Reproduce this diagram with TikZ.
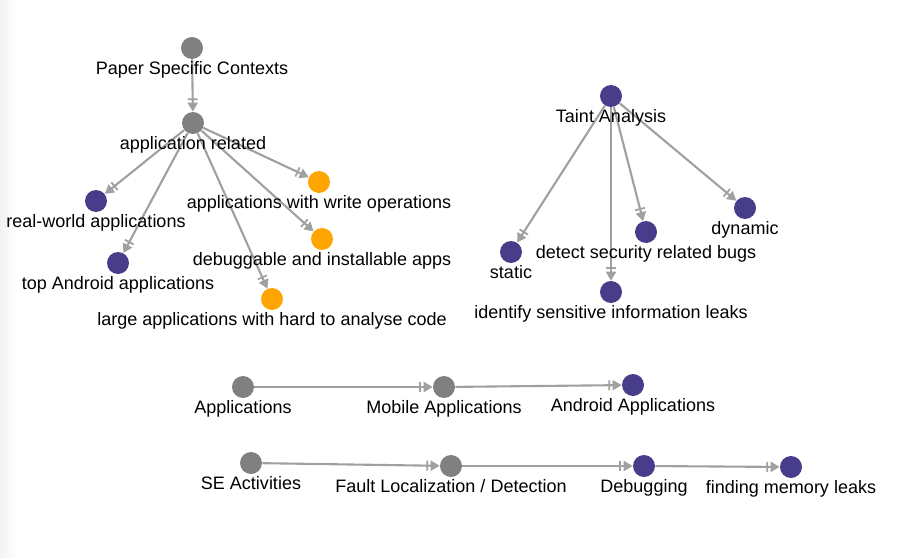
\documentclass[tikz,border=0pt]{standalone}
\usepackage{fontspec}
\setmainfont{Liberation Sans}
\usetikzlibrary{arrows.meta,backgrounds}
\definecolor{topicgrey}{RGB}{128,128,128}
\definecolor{topicpurple}{RGB}{72,61,139}
\definecolor{topicorange}{RGB}{255,165,0}
\definecolor{linkgrey}{RGB}{160,160,160}
\tikzset{
  topic/.style={circle, fill=#1, inner sep=0pt, minimum size=0.44cm},
  caption/.style={inner sep=0pt, text height=0.258cm, text depth=0.07cm, label distance=0.04cm},
  link/.style={draw=linkgrey, line width=1.2pt,
    -{Bar[width=0.2cm,line width=1pt,sep=0.05cm]Triangle[length=0.18cm,width=0.2cm]}},
  every label/.style={caption}
}

\begin{document}
\begin{tikzpicture}[x=0.02cm, y=-0.02cm, font=\fontsize{10.25pt}{12pt}\selectfont]
  \useasboundingbox (0,0) rectangle (903,558);

  % first tree
  \node [topic=topicgrey, label=below:Paper Specific Contexts] (psc) at (192,48) {};
  \node [topic=topicgrey, label=below:application related] (apprel) at (193,123) {};
  \node [topic=topicpurple, label=below:real-world applications] (realworld) at (96,201) {};
  \node [topic=topicpurple, label=below:top Android applications] (topandroid) at (118,263) {};
  \node [topic=topicorange, label=below:applications with write operations] (writeops) at (319,182) {};
  \node [topic=topicorange, label=below:debuggable and installable apps] (debuggable) at (322,239) {};
  \node [topic=topicorange, label=below:large applications with hard to analyse code] (largeapps) at (272,299) {};

  % second tree
  \node [topic=topicpurple, label=below:Taint Analysis] (taint) at (611,96) {};
  \node [topic=topicpurple, label=below:static] (static) at (511,252) {};
  \node [topic=topicpurple, label=below:identify sensitive information leaks] (leaks) at (611,292) {};
  \node [topic=topicpurple, label=below:detect security related bugs] (secbugs) at (646,232) {};
  \node [topic=topicpurple, label=below:dynamic] (dynamic) at (745,208) {};

  % chains
  \node [topic=topicgrey, label=below:Applications] (apps) at (243,387) {};
  \node [topic=topicgrey, label=below:Mobile Applications] (mobileapps) at (444,387) {};
  \node [topic=topicpurple, label=below:Android Applications] (androidapps) at (633,385) {};

  \node [topic=topicgrey, label=below:SE Activities] (seact) at (251,463) {};
  \node [topic=topicgrey, label=below:Fault Localization / Detection] (faultloc) at (451,466) {};
  \node [topic=topicpurple, label=below:Debugging] (debugging) at (644,466) {};
  \node [topic=topicpurple, label=below:finding memory leaks] (memleaks) at (791,467) {};

  \begin{scope}[on background layer]
    \shade [left color=black!5, right color=white] (0,0) rectangle (16,558);
    \draw [link] (psc) -- (apprel);
    \foreach \t in {realworld, topandroid, writeops, debuggable, largeapps}
      \draw [link] (apprel) -- (\t);
    \foreach \t in {static, leaks, secbugs, dynamic}
      \draw [link] (taint) -- (\t);
    \draw [link] (apps) -- (mobileapps);
    \draw [link] (mobileapps) -- (androidapps);
    \draw [link] (seact) -- (faultloc);
    \draw [link] (faultloc) -- (debugging);
    \draw [link] (debugging) -- (memleaks);
  \end{scope}
\end{tikzpicture}
\end{document}
